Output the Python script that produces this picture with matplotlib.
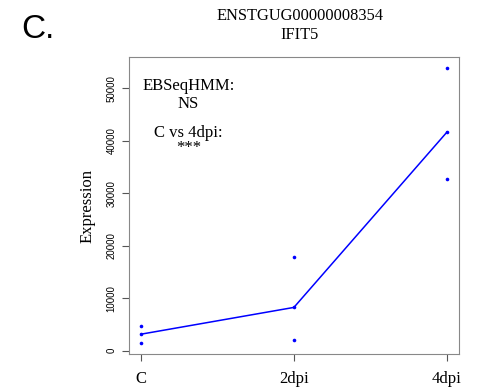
import matplotlib
matplotlib.use("Agg")
import matplotlib.pyplot as plt
import numpy as np

# groups and replicate expression values
groups = ["C", "2dpi", "4dpi"]
c_vals = [1500, 3150, 4800]
dpi2_vals = [2100, 8250, 17800]
dpi4_vals = [32700, 41600, 53900]
yticks = [0, 10000, 20000, 30000, 40000, 50000]

serif = "Liberation Serif"
sans = "Liberation Sans"

fig = plt.figure(figsize=(4.83, 3.89), dpi=100)
ax = fig.add_axes([0.267, 0.090, 0.683, 0.763])

reps = [c_vals, dpi2_vals, dpi4_vals]
xs = np.arange(1, len(groups) + 1)
for x, vals in zip(xs, reps):
    ax.plot([x] * len(vals), vals, "o", color="#0000FF", markersize=2.6, markeredgewidth=0)
meds = [np.median(v) for v in reps]
ax.plot(xs, meds, color="#0000FF", lw=1.1)

ax.set_xlim(0.92, 3.08)
ax.set_ylim(-630, 55950)
ax.set_xticks(xs)
ax.set_xticklabels(groups, fontfamily=serif, fontsize=12)
ax.set_yticks(yticks)
ax.set_yticklabels([str(v) for v in yticks], rotation=90, va="center",
                   fontfamily=sans, fontsize=7)
for s in ax.spines.values():
    s.set_color("#888888")
ax.tick_params(colors="#555555", length=5, width=0.8)
ax.tick_params(axis="x", pad=7, labelcolor="black")
ax.tick_params(axis="y", pad=4, labelcolor="black")
ax.set_ylabel("Expression", fontfamily=serif, fontsize=12, labelpad=8)

ax.text(0.18, 0.872, "EBSeqHMM:\nNS", transform=ax.transAxes, ha="center", va="center",
        fontfamily=serif, fontsize=12, linespacing=1.2)
ax.text(0.18, 0.72, "C vs 4dpi:\n***", transform=ax.transAxes, ha="center", va="center",
        fontfamily=serif, fontsize=12, linespacing=0.95)

fig.text(0.621, 0.958, "ENSTGUG00000008354", ha="center", va="center",
         fontfamily=serif, fontsize=11.8)
fig.text(0.621, 0.91, "IFIT5", ha="center", va="center", fontfamily=serif, fontsize=11.8)
fig.text(0.045, 0.925, "C.", ha="left", va="center", fontfamily=sans, fontsize=24)

fig.savefig("out.png", dpi=100)
